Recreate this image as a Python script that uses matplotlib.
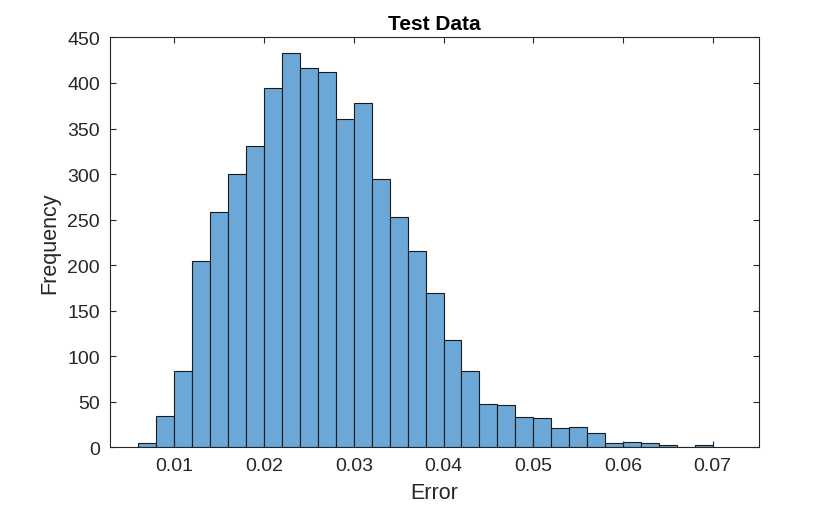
import matplotlib
matplotlib.use('Agg')
import matplotlib.pyplot as plt
import numpy as np

plt.rcParams['font.family'] = ['Liberation Sans', 'DejaVu Sans']

# histogram bins (edges) and counts
bin_start = 0.006
bin_width = 0.002
counts = [5, 34, 84, 205, 258, 300, 331, 394, 433, 416, 412, 361, 378, 295, 253,
          215, 169, 118, 84, 48, 46, 33, 32, 21, 22, 16, 5, 6, 5, 2, 0, 3]
edges = [round(bin_start + bin_width * i, 4) for i in range(len(counts) + 1)]

x_ticks = [0.01, 0.02, 0.03, 0.04, 0.05, 0.06, 0.07]
x_tick_labels = ['0.01', '0.02', '0.03', '0.04', '0.05', '0.06', '0.07']
y_ticks = list(range(0, 451, 50))

face = (0.42, 0.66, 0.845)
dark = (0.15, 0.15, 0.15)

fig = plt.figure(figsize=(8.4, 5.06), dpi=100)
ax = fig.add_axes([0.1306, 0.114, 0.904 - 0.1306, 0.924 - 0.114])

ax.bar(edges[:-1], counts, width=np.diff(edges), align='edge', color=face,
       edgecolor='#1a1a1a', linewidth=0.8)

ax.set_xlim(0.0028, 0.0752)
ax.set_ylim(0, 450)
ax.set_xticks(x_ticks)
ax.set_xticklabels(x_tick_labels)
ax.set_yticks(y_ticks)

ax.tick_params(direction='in', length=4, width=0.8, colors=dark, labelsize=14,
               top=True, right=True, labelcolor=dark, pad=7)
for sp in ax.spines.values():
    sp.set_color(dark)
    sp.set_linewidth(0.8)

ax.set_xlabel('Error', fontsize=15.5, color=dark, labelpad=6)
ax.set_ylabel('Frequency', fontsize=15.5, color=dark, labelpad=5)
ax.set_title('Test Data', fontsize=15, fontweight='bold', color='black', pad=6)

fig.savefig('out.png', dpi=100)
